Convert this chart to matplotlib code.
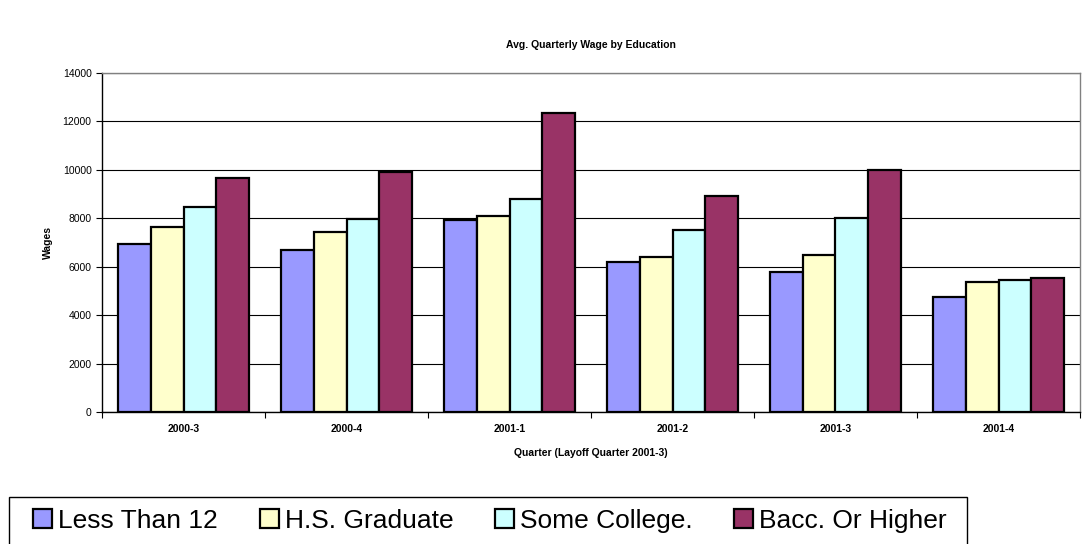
import numpy as np
import matplotlib
matplotlib.use("Agg")
import matplotlib.pyplot as plt
from matplotlib.patches import Patch, Rectangle

plt.rcParams['font.family'] = ['Liberation Sans', 'DejaVu Sans']

quarters = ['2000-3', '2000-4', '2001-1', '2001-2', '2001-3', '2001-4']
series_names = ['Less Than 12', 'H.S. Graduate', 'Some College.', 'Bacc. Or Higher']
less_than_12 = [6925, 6690, 7916, 6181, 5795, 4763]
hs_graduate = [7627, 7420, 8081, 6415, 6497, 5382]
some_college = [8453, 7957, 8796, 7516, 8025, 5438]
bacc_or_higher = [9651, 9911, 12335, 8934, 9981, 5521]
colors = ['#9999FF', '#FFFFCC', '#CCFFFF', '#993366']

series = [less_than_12, hs_graduate, some_college, bacc_or_higher]

W, H = 1082, 544
fig = plt.figure(figsize=(W / 100, H / 100), dpi=100)
ax = fig.add_axes([102 / W, 132 / H, 978 / W, 339 / H])

x = np.arange(len(quarters))
w = 0.2
for i, (vals, col) in enumerate(zip(series, colors)):
    ax.bar(x + (i - 1.5) * w, vals, w, color=col, edgecolor='black',
           linewidth=1.6, zorder=3)

ax.set_xlim(-0.5, len(quarters) - 0.5)
ax.set_ylim(0, 14000)
ax.set_yticks(np.arange(0, 14001, 2000))
ax.yaxis.grid(True, color='black', linewidth=0.8, zorder=0)
ax.set_axisbelow(True)

# ticks between groups, labels centered under groups
ax.set_xticks(np.arange(-0.5, len(quarters)), minor=False)
ax.set_xticklabels([])
ax.set_xticks(x, minor=True)
ax.set_xticklabels(quarters, minor=True, fontsize=7.5, fontweight='bold')
ax.tick_params(axis='x', which='minor', length=0, pad=9)
ax.tick_params(axis='x', which='major', length=4, direction='out', color='black')
ax.tick_params(axis='y', labelsize=7.5, length=4, direction='out')

for s in ['left', 'bottom']:
    ax.spines[s].set_color('black')
    ax.spines[s].set_linewidth(1.0)
for s in ['top', 'right']:
    ax.spines[s].set_color('#808080')
    ax.spines[s].set_linewidth(1.0)

ax.set_ylabel('Wages', fontsize=7.5, fontweight='bold', labelpad=7)
ax.set_xlabel('Quarter (Layoff Quarter 2001-3)', fontsize=7.5,
              fontweight='bold', labelpad=10)
fig.text(0.5 * (102 + 1080) / W, 1 - 45 / H, 'Avg. Quarterly Wage by Education',
         ha='center', va='center', fontsize=7.5, fontweight='bold')

# legend box (runs off the bottom edge like the original)
fig.patches.append(Rectangle((9 / W, -4 / H), 958 / W, 51 / H,
                             transform=fig.transFigure, facecolor='white',
                             edgecolor='black', linewidth=1.0))

handles = [Patch(facecolor=c, edgecolor='black', linewidth=1.6) for c in colors]
leg = fig.legend(handles, series_names, ncol=4, loc='center left',
                 bbox_to_anchor=(33 / W, 1 - 521 / H),
                 prop={'size': 19}, frameon=False,
                 handlelength=0.72, handleheight=0.72, handletextpad=0.23,
                 columnspacing=1.58, borderaxespad=0, borderpad=0)

fig.savefig('out.png', dpi=100)
